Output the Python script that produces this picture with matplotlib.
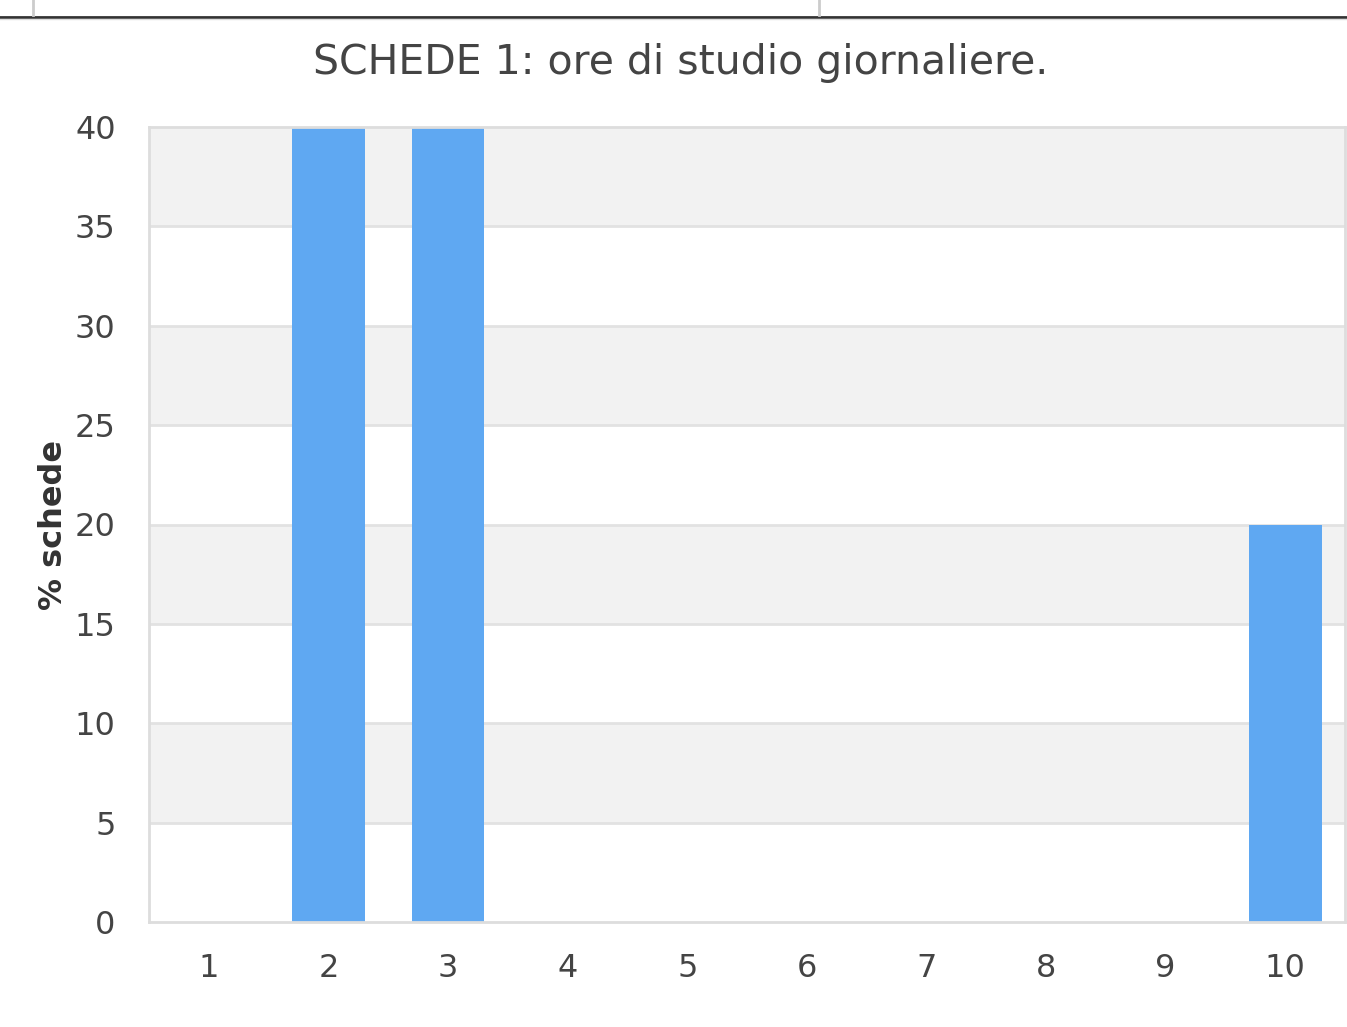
import matplotlib.pyplot as plt
import numpy as np

# dati
categorie = ['1', '2', '3', '4', '5', '6', '7', '8', '9', '10']
valori = [0, 40, 40, 0, 0, 0, 0, 0, 0, 20]
yticks = [0, 5, 10, 15, 20, 25, 30, 35, 40]

fig = plt.figure(figsize=(13.47, 10.27), dpi=100)
ax = fig.add_axes([149 / 1347, 1 - 922 / 1027, 1196 / 1347, 795 / 1027])

x = np.arange(1, len(categorie) + 1)

# bande alternate
for i in range(len(yticks) - 1):
    if i % 2 == 1:
        ax.axhspan(yticks[i], yticks[i + 1], color='#f2f2f2', zorder=0, lw=0)
for t in yticks[1:-1]:
    ax.axhline(t, color='#e2e2e2', lw=2, zorder=1)

ax.bar(x, valori, width=0.61, color='#5fa8f2', zorder=2)

ax.set_xlim(0.5, 10.5)
ax.set_ylim(0, 40)
ax.set_xticks(x)
ax.set_xticklabels(categorie)
ax.set_yticks(yticks)
ax.tick_params(length=0, labelsize=23, colors='#444444')
ax.tick_params(axis='y', pad=24)
ax.tick_params(axis='x', pad=22)
for s in ax.spines.values():
    s.set_color('#dddddd')
    s.set_linewidth(2)

ax.set_ylabel('% schede', fontsize=23, fontweight='bold', color='#333333', labelpad=4)
fig.text(0.505, 1 - 63 / 1027, 'SCHEDE 1: ore di studio giornaliere.', ha='center', va='center',
         fontsize=29.5, color='#444444')

# cornice in alto
fig.add_artist(plt.Line2D([0, 1], [1 - 16.5 / 1027] * 2, color='#333333', lw=2))
fig.add_artist(plt.Line2D([0, 1], [1 - 19 / 1027] * 2, color='#dddddd', lw=1))
for xv in [33, 819]:
    fig.add_artist(plt.Line2D([xv / 1347] * 2, [1 - 15 / 1027, 1], color='#cccccc', lw=2))

fig.savefig('out.png', dpi=100)
